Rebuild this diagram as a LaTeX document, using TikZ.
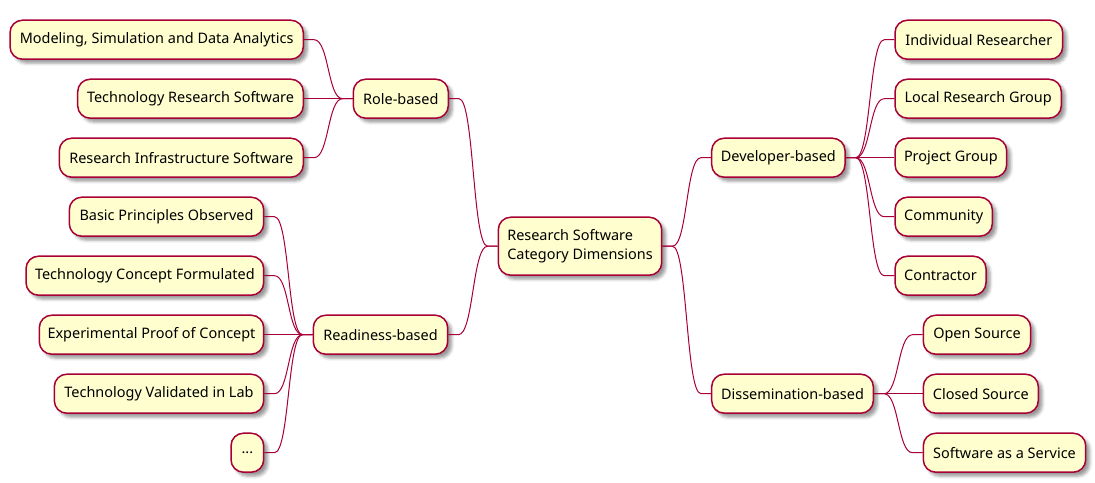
\documentclass[tikz,border=0pt]{standalone}
\usepackage{fontspec}
\setmainfont{Noto Sans}
\usetikzlibrary{calc,shadows.blur}
\definecolor{pborder}{HTML}{A80036}
\definecolor{pfill}{HTML}{FEFECE}
\begin{document}
\begin{tikzpicture}[x=1pt,y=-1pt,
  box/.style={draw=pborder, fill=pfill, line width=1.5pt, rounded corners=12.5pt,
    minimum height=39pt, inner sep=0pt, font=\fontsize{14.45pt}{19.3pt}\selectfont,
    blur shadow={shadow xshift=4pt, shadow yshift=-4pt, shadow blur radius=3pt, shadow opacity=40}},
  conr/.style={to path={-- ++(10,0) .. controls +(15,0) and +(-15,0) .. ($(\tikztotarget)+(-10,0)$) -- (\tikztotarget)}},
  conl/.style={to path={-- ++(-10,0) .. controls +(-15,0) and +(15,0) .. ($(\tikztotarget)+(10,0)$) -- (\tikztotarget)}},
  link/.style={draw=pborder, line width=1pt}]
\useasboundingbox (0,0) rectangle (1095,482);

% root
\node[box, minimum width=163.4pt, minimum height=58pt, align=left] (root) at (580,246.2) {Research Software\\Category Dimensions};

% left side
\node[box, minimum width=95pt] (role) at (400.8,98.7) {Role-based};
\node[box, minimum width=134.4pt] (ready) at (380.5,334.7) {Readiness-based};

\node[box, minimum width=293.3pt] (msda) at (156.65,39.7) {Modeling, Simulation and Data Analytics};
\node[box, minimum width=225.6pt] (trs) at (190.5,98.7) {Technology Research Software};
\node[box, minimum width=244pt] (ris) at (181.3,157.7) {Research Infrastructure Software};

\node[box, minimum width=194.4pt] (bpo) at (166.5,216.7) {Basic Principles Observed};
\node[box, minimum width=237.7pt] (tcf) at (144.85,275.7) {Technology Concept Formulated};
\node[box, minimum width=224.4pt] (epc) at (151.5,334.7) {Experimental Proof of Concept};
\node[box, minimum width=209.4pt] (tvl) at (159,393.7) {Technology Validated in Lab};
\node[box, minimum width=32.7pt] (dots) at (247.35,452.7) {...};

% right side
\node[box, minimum width=133.3pt] (dev) at (778.35,157.7) {Developer-based};
\node[box, minimum width=161.6pt] (diss) at (792.5,393.7) {Dissemination-based};

\node[box, minimum width=167.7pt] (ir) at (978.85,39.7) {Individual Researcher};
\node[box, minimum width=166.3pt] (lrg) at (978.15,98.7) {Local Research Group};
\node[box, minimum width=111.7pt] (pg) at (950.85,157.7) {Project Group};
\node[box, minimum width=97.3pt] (comm) at (943.65,216.7) {Community};
\node[box, minimum width=91pt] (contr) at (940.5,275.7) {Contractor};

\node[box, minimum width=107.4pt] (os) at (977,334.7) {Open Source};
\node[box, minimum width=115pt] (cs) at (980.8,393.7) {Closed Source};
\node[box, minimum width=162.4pt] (saas) at (1004.5,452.7) {Software as a Service};

% connectors
\draw[link] (root.west) to[conl] (role.east);
\draw[link] (root.west) to[conl] (ready.east);
\draw[link] (role.west) to[conl] (msda.east);
\draw[link] (role.west) to[conl] (trs.east);
\draw[link] (role.west) to[conl] (ris.east);
\draw[link] (ready.west) to[conl] (bpo.east);
\draw[link] (ready.west) to[conl] (tcf.east);
\draw[link] (ready.west) to[conl] (epc.east);
\draw[link] (ready.west) to[conl] (tvl.east);
\draw[link] (ready.west) to[conl] (dots.east);

\draw[link] (root.east) to[conr] (dev.west);
\draw[link] (root.east) to[conr] (diss.west);
\draw[link] (dev.east) to[conr] (ir.west);
\draw[link] (dev.east) to[conr] (lrg.west);
\draw[link] (dev.east) to[conr] (pg.west);
\draw[link] (dev.east) to[conr] (comm.west);
\draw[link] (dev.east) to[conr] (contr.west);
\draw[link] (diss.east) to[conr] (os.west);
\draw[link] (diss.east) to[conr] (cs.west);
\draw[link] (diss.east) to[conr] (saas.west);
\end{tikzpicture}
\end{document}
